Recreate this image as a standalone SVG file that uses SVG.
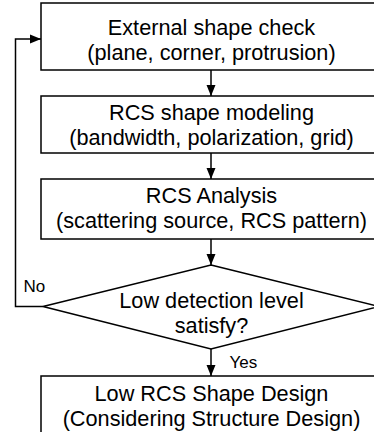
<svg xmlns="http://www.w3.org/2000/svg" width="374" height="432" viewBox="0 0 374 432">
<defs>
<marker id="ah" markerUnits="userSpaceOnUse" markerWidth="12" markerHeight="10" refX="11" refY="5" orient="auto">
<path d="M0,0.5 L11,5 L0,9.5 Z" fill="#000"/>
</marker>
<style>
.box{fill:#fff;stroke:#000;stroke-width:1.5}
.t{font-family:"Liberation Sans",Arial,sans-serif;font-size:21.7px;text-anchor:middle;fill:#000}
.l{font-family:"Liberation Sans",Arial,sans-serif;font-size:17px;fill:#000}
.c{fill:none;stroke:#000;stroke-width:1.5}
</style>
</defs>
<rect width="374" height="432" fill="#fff"/>
<g id="connectors">
<line class="c" x1="211" y1="70" x2="211" y2="96" marker-end="url(#ah)"/>
<line class="c" x1="211" y1="153" x2="211" y2="179" marker-end="url(#ah)"/>
<line class="c" x1="211" y1="239" x2="211" y2="265" marker-end="url(#ah)"/>
<line class="c" x1="211" y1="349" x2="211" y2="376" marker-end="url(#ah)"/>
<polyline class="c" points="43,306.5 15.5,306.5 15.5,39 41,39" marker-end="url(#ah)"/>
<text class="l" x="23.5" y="292">No</text>
<text class="l" x="229.5" y="368">Yes</text>
</g>
<g id="n1">
<rect class="box" x="41" y="3" width="340" height="67"/>
<text class="t" x="211.5" y="35">External shape check</text>
<text class="t" x="211.5" y="60">(plane, corner, protrusion)</text>
</g>
<g id="n2">
<rect class="box" x="41" y="96" width="340" height="57"/>
<text class="t" x="211.5" y="120">RCS shape modeling</text>
<text class="t" x="211.5" y="145">(bandwidth, polarization, grid)</text>
</g>
<g id="n3">
<rect class="box" x="41" y="179" width="340" height="60"/>
<text class="t" x="211.5" y="203">RCS Analysis</text>
<text class="t" x="211.5" y="228">(scattering source, RCS pattern)</text>
</g>
<g id="n4">
<polygon class="box" points="211,265 379,306.5 211,349 43,306.5"/>
<text class="t" x="211.5" y="308">Low detection level</text>
<text class="t" x="211.5" y="333">satisfy?</text>
</g>
<g id="n5">
<rect class="box" x="41" y="376" width="340" height="70"/>
<text class="t" x="211.5" y="401">Low RCS Shape Design</text>
<text class="t" x="211.5" y="425.5">(Considering Structure Design)</text>
</g>
</svg>
